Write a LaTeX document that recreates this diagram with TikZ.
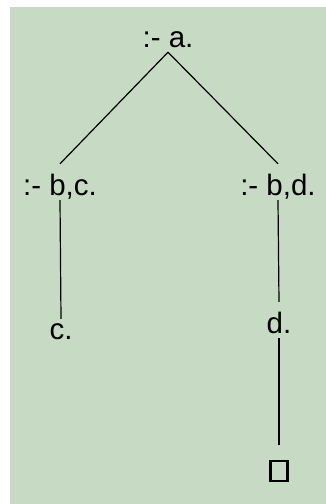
\documentclass[tikz,border=0pt]{standalone}
\usepackage{fontspec}
\setmainfont{Liberation Sans}
\usepackage{tikz}
\usetikzlibrary{positioning}
\definecolor{panel}{RGB}{199,219,196}

\begin{document}
\begin{tikzpicture}[x=1pt, y=-1pt,
    goal/.style={font=\fontsize{29.5}{34}\selectfont, inner sep=0pt,
                 text height=31pt, text depth=5pt, anchor=base},
    edge/.style={line width=1.2pt},
    empty/.style={draw, line width=2.5pt, minimum width=17pt,
                  minimum height=20pt, inner sep=0pt}]
    \useasboundingbox (0,0) rectangle (326,504);
    % Background panel
    \fill[panel] (10,7) rectangle (326,504);

    % Goals of the derivation tree
    \node[goal] (root) at (168,47) {:- a.};
    \node[goal] (bc) at (60,195) {:- b,c.};
    \node[goal] (bd) at (278,195) {:- b,d.};
    \node[goal, text height=20pt] (c) at (61,339) {c.};
    \node[goal] (d) at (279,333) {d.};
    \node[empty] (box) at (279,471) {};

    % Branches
    \draw[edge] (root.south) -- (bc.north);
    \draw[edge] (root.south) -- (bd.north);
    \draw[edge] (bc.south) -- (c.north);
    \draw[edge] (bd.south) -- (d.north);
    \draw[edge, shorten >=15pt] (d.south) -- (box.north);
\end{tikzpicture}
\end{document}
